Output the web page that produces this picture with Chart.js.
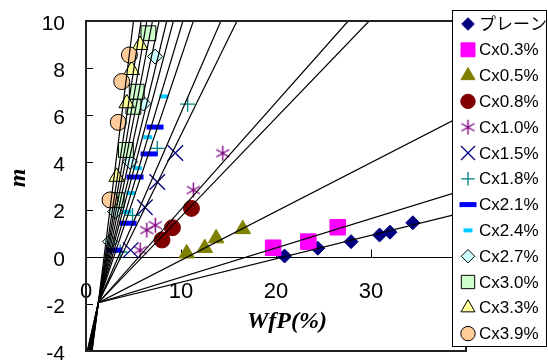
<!DOCTYPE html>
<html>
<head>
<meta charset="utf-8">
<script src="https://cdn.jsdelivr.net/npm/chart.js@4.4.1/dist/chart.umd.min.js"></script>
<style>
body { margin: 0; background: #fff; }
canvas { display: block; }
</style>
</head>
<body>
<canvas id="chart" width="548" height="360"></canvas>
<script>
// legend names, one per measured series
const names = ["プレーン", "Cx0.3%", "Cx0.5%", "Cx0.8%", "Cx1.0%", "Cx1.5%", "Cx1.8%",
               "Cx2.1%", "Cx2.4%", "Cx2.7%", "Cx3.0%", "Cx3.3%", "Cx3.9%"];

// measured points [WfP(%), m]
const plain = [[20.9, 0.03], [24.4, 0.36], [27.9, 0.64], [30.9, 0.92], [32.0, 1.04], [34.4, 1.44]];
const cx03 = [[19.7, 0.38], [23.4, 0.64], [26.5, 1.25]];
const cx05 = [[10.6, 0.14], [12.5, 0.37], [13.7, 0.78], [16.5, 1.17]];
const cx08 = [[8.0, 0.71], [9.1, 1.23], [11.1, 2.05]];
const cx10 = [[5.7, 0.28], [6.4, 1.13], [7.3, 1.34], [11.3, 2.83], [14.4, 4.39]];
const cx15 = [[4.7, 0.28], [6.2, 2.1], [7.5, 3.17], [9.4, 4.4]];
const cx18 = [[3.6, 0.2], [4.9, 1.75], [7.5, 4.6], [10.7, 6.47]];
const cx21 = [[2.95, 0.28], [4.43, 1.42], [5.16, 3.38], [6.64, 4.36], [7.27, 5.5]];
const cx24 = [[4.3, 1.9], [4.7, 2.7], [5.4, 3.76], [6.5, 5.07], [8.2, 6.8]];
const cx27 = [[2.53, 0.64], [3.06, 1.91], [4.64, 4.03], [6.04, 6.5], [7.27, 8.49]];
const cx30 = [[3.23, 2.4], [4.2, 4.53], [4.99, 6.36], [5.34, 7.0], [6.57, 9.48]];
const cx33 = [[3.23, 3.39], [4.29, 6.51], [4.81, 7.92], [5.69, 8.98]];
const cx39 = [[2.53, 2.41], [3.4, 5.70], [3.76, 7.43], [4.57, 8.56]];
const series = [plain, cx03, cx05, cx08, cx10, cx15, cx18, cx21, cx24, cx27, cx30, cx33, cx39];

// fitted lines: all start near the same point, then leave the plot at m = 10 or WfP = 40
const fitMeet = [1.3, -1.95];
const fitTopX = [5.0, 5.8, 6.4, 7.0, 7.7, 8.5, 9.2, 10.2, 11.3, 14.2, 15.9, 27.6, 29.8];
const fitRightM = [6.06, 2.86, 1.90];
const fitFootX = [0.65, 0.6, 0.6, 0.55, 0.5, 0.5, 0.45, 0.45, 0.4, 0.35, 0.35, 0.25, 0.25, 0.2, 0.15, 0.15];

// tick labels
const xTicks = [0, 10, 20, 30, 40];
const yTicks = [-4, -2, 0, 2, 4, 6, 8, 10];

function makeAsterisk(color, size, lw) {
    let c = document.createElement("canvas")
    c.width = size
    c.height = size
    let g = c.getContext("2d")
    g.strokeStyle = color
    g.lineWidth = lw
    let h = size / 2, r = h - 1
    g.beginPath()
    ;[90, 30, 150].forEach(a => {
        let dx = Math.cos(a * Math.PI / 180) * r, dy = Math.sin(a * Math.PI / 180) * r
        g.moveTo(h - dx, h - dy)
        g.lineTo(h + dx, h + dy)
    })
    g.stroke()
    return c
}

const looks = [
    { style: "rectRot", r: 7, bg: "#000080", bd: "#000080", bw: 1 },
    { style: "rect", r: 11, bg: "#FF00FF", bd: "#FF00FF", bw: 1 },
    { style: "triangle", r: 9, bg: "#808000", bd: "#808000", bw: 1 },
    { style: "circle", r: 8, bg: "#800000", bd: "#800000", bw: 1 },
    { style: makeAsterisk("#800080", 17, 1.4), r: 8, bg: "#800080", bd: "#800080", bw: 1.4 },
    { style: "crossRot", r: 11, bg: "#000080", bd: "#000080", bw: 1.3 },
    { style: "cross", r: 7.5, bg: "#008080", bd: "#008080", bw: 1.3 },
    { style: "line", r: 8.5, bg: "#0000FF", bd: "#0000FF", bw: 5 },
    { style: "line", r: 4.5, bg: "#00CCFF", bd: "#00CCFF", bw: 4 },
    { style: "rectRot", r: 7.5, bg: "#CCFFFF", bd: "#000000", bw: 1 },
    { style: "rect", r: 10.5, bg: "#CCFFCC", bd: "#000000", bw: 1 },
    { style: "triangle", r: 9, bg: "#FFFF99", bd: "#000000", bw: 1 },
    { style: "circle", r: 8, bg: "#FFCC99", bd: "#000000", bw: 1 }
];

let datasets = []

// fit lines first, drawn on top of the markers
let fitEnds = fitTopX.map(v => ({ x: v, y: 10 })).concat(fitRightM.map(v => ({ x: 40, y: v })))
fitEnds.forEach((end, i) => {
    datasets.push({
        data: [{ x: fitFootX[i], y: -4 }, { x: fitMeet[0], y: fitMeet[1] }, end],
        showLine: true,
        borderColor: "#000",
        borderWidth: 1.2,
        pointRadius: 0,
        order: 0
    })
})

series.forEach((pts, i) => {
    let lk = looks[i]
    datasets.push({
        label: names[i],
        data: pts.map(p => ({ x: p[0], y: p[1] })),
        showLine: false,
        pointStyle: lk.style,
        pointRadius: lk.r,
        backgroundColor: lk.bg,
        borderColor: lk.bd,
        borderWidth: lk.bw,
        order: series.length - i
    })
})

// pin the plot box to where it sits in the original figure
const plotBox = { left: 86, top: 21, right: 466, bottom: 351 }
const boxPlugin = {
    id: "plotBox",
    afterLayout(chart) {
        let a = chart.chartArea
        Object.assign(a, plotBox)
        a.width = plotBox.right - plotBox.left
        a.height = plotBox.bottom - plotBox.top
        let { x, y } = chart.scales
        x.left = plotBox.left
        x.right = plotBox.right
        x.width = a.width
        x.configure()
        y.top = plotBox.top
        y.bottom = plotBox.bottom
        y.height = a.height
        y.right = plotBox.left
        y.configure()
    }
}

const axesPlugin = {
    id: "axesLines",
    beforeDatasetsDraw(chart) {
        let { ctx, chartArea: a, scales: { x, y } } = chart
        ctx.save()
        ctx.strokeStyle = "#000"
        ctx.lineWidth = 1
        let y0 = Math.round(y.getPixelForValue(0)) + 0.5
        ctx.beginPath()
        ctx.moveTo(a.left, y0)
        ctx.lineTo(a.right, y0)
        x.ticks.forEach(t => {
            let px = Math.round(x.getPixelForValue(t.value)) + 0.5
            ctx.moveTo(px, y0)
            ctx.lineTo(px, y0 - 8)
        })
        y.ticks.forEach(t => {
            let py = Math.round(y.getPixelForValue(t.value)) + 0.5
            ctx.moveTo(a.left, py)
            ctx.lineTo(a.left + 7, py)
        })
        ctx.stroke()
        ctx.restore()
    },
    afterDatasetsDraw(chart) {
        let { ctx, chartArea: a } = chart
        ctx.save()
        ctx.strokeStyle = "#222"
        ctx.lineWidth = 2
        ctx.strokeRect(a.left, a.top, a.right - a.left, a.bottom - a.top)
        ctx.restore()
    }
}

const legendPlugin = {
    id: "boxLegend",
    afterDraw(chart) {
        let ctx = chart.ctx
        ctx.save()
        ctx.fillStyle = "#fff"
        ctx.fillRect(452, 10, 95, 337)
        ctx.strokeStyle = "#000"
        ctx.lineWidth = 1
        ctx.strokeRect(452.5, 10.5, 94, 336)
        ctx.font = '17px "Liberation Sans", Arial, "Noto Sans CJK JP"'
        ctx.textBaseline = "middle"
        ctx.textAlign = "left"
        names.forEach((name, i) => {
            let lk = looks[i]
            let yy = 24 + i * 25.8
            ctx.fillStyle = lk.bg
            ctx.strokeStyle = lk.bd
            ctx.lineWidth = lk.bw
            let r = lk.style === "line" ? lk.r : lk.r * 0.9
            Chart.helpers.drawPoint(ctx, { pointStyle: lk.style, radius: r, borderWidth: lk.bw, rotation: 0 }, 468, yy)
            ctx.fillStyle = "#000"
            ctx.fillText(name, 479, yy + 1)
        })
        ctx.restore()

        // axis titles
        ctx.save()
        ctx.fillStyle = "#000"
        ctx.font = 'italic bold 24px "Liberation Serif", "DejaVu Serif", serif'
        ctx.textAlign = "center"
        ctx.textBaseline = "middle"
        ctx.fillText("WfP(%)", 287, 322)
        ctx.translate(19, 178)
        ctx.rotate(-Math.PI / 2)
        ctx.fillText("m", 0, 0)
        ctx.restore()
    }
}

new Chart("chart", {
    type: "scatter",
    data: { datasets: datasets },
    options: {
        responsive: false,
        animation: false,
        devicePixelRatio: 1,
        events: [],
        layout: { padding: { left: 0, top: 21, right: 82, bottom: 9 } },
        plugins: { legend: { display: false }, tooltip: { enabled: false } },
        scales: {
            x: {
                type: "linear",
                position: { y: 0 },
                min: 0,
                max: 40,
                afterBuildTicks: s => { s.ticks = xTicks.map(v => ({ value: v })) },
                grid: { display: false, drawTicks: false },
                border: { display: false },
                ticks: {
                    color: "#000",
                    padding: 26,
                    maxRotation: 0,
                    font: { family: '"Liberation Sans", Arial', size: 22, lineHeight: 0.8 }
                }
            },
            y: {
                type: "linear",
                min: -4,
                max: 10,
                afterBuildTicks: s => { s.ticks = yTicks.map(v => ({ value: v })) },
                afterFit: s => { s.width = 86 },
                grid: { display: false, drawTicks: false },
                border: { display: false },
                ticks: {
                    color: "#000",
                    padding: 0,
                    // empty first line pushes the number ~3px below the tick, en spaces keep it off the axis
                    callback: v => ["", v + "\u2002\u2002"],
                    font: { family: '"Liberation Sans", Arial', size: 21, lineHeight: "6px" }
                }
            }
        }
    },
    plugins: [boxPlugin, axesPlugin, legendPlugin]
});
</script>
</body>
</html>
